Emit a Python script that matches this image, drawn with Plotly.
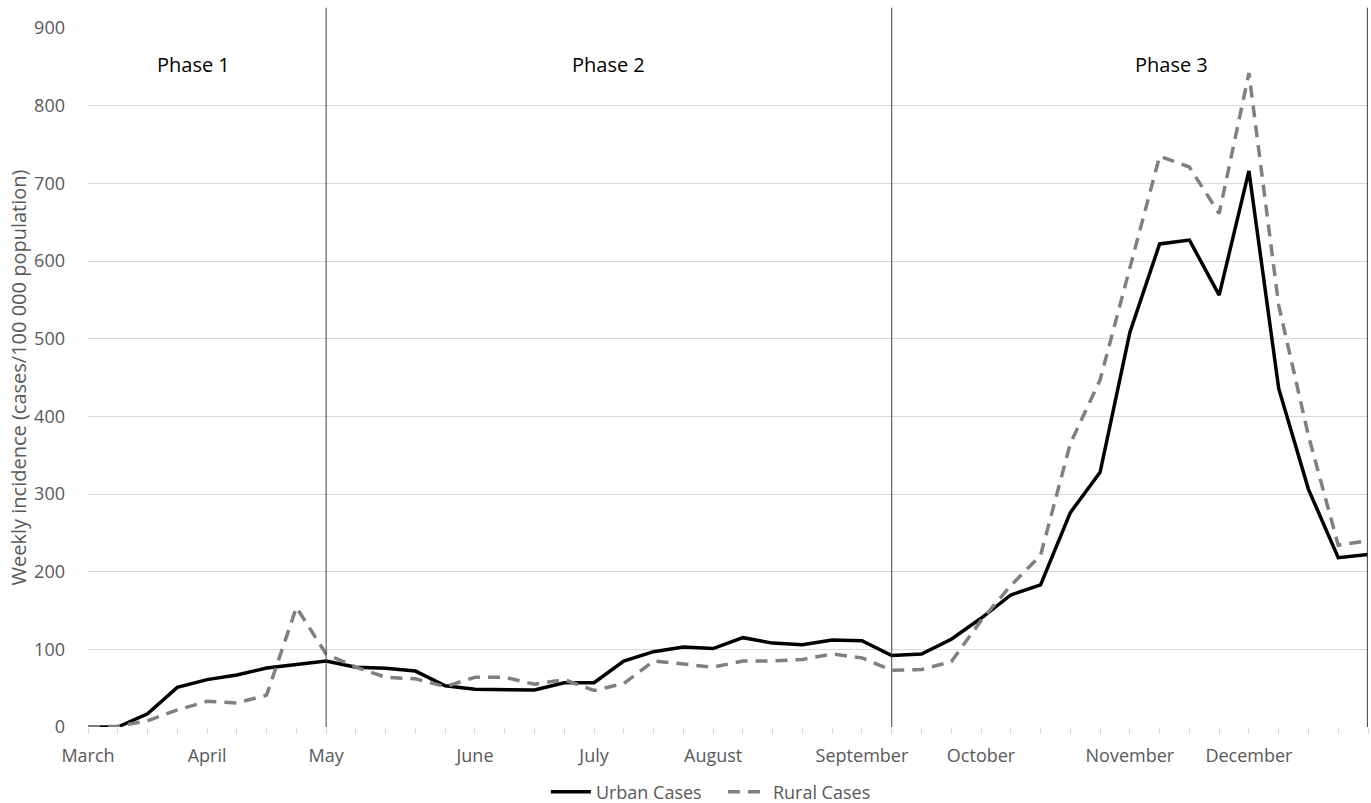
import plotly.graph_objects as go

weeks = list(range(44))
month_labels = {0: "March", 4: "April", 8: "May", 13: "June", 17: "July", 21: "August",
                26: "September", 30: "October", 35: "November", 39: "December"}
tick_text = [month_labels.get(i, "") for i in weeks]

urban = [0, 0, 17, 51, 61, 67, 76, 80, 85, 77, 75.5, 72, 53, 48.5, 48.5, 47.6, 57, 57, 85, 97,
         103, 101, 115, 108, 106, 112, 111, 92, 94, 113, 140, 170, 183, 276, 328, 508, 622, 627,
         556, 716, 436, 306, 218, 222]
rural = [0, 1, 8, 22, 33, 31, 41, 154, 94, 77, 64, 62, 52, 64, 64, 55, 61, 47, 56, 85,
         81, 77, 85, 85, 87, 94, 89, 73, 74, 84, 137, 182, 221, 365, 447, 590, 735, 721,
         661, 842, 543, 375, 234, 240]

phase_breaks = [8, 27, 42.98]
phase_names = ["Phase 1", "Phase 2", "Phase 3"]
phase_label_x = [3.53, 17.47, 36.4]
phase_label_y = 853

fig = go.Figure()
fig.add_trace(go.Scatter(x=weeks, y=urban, mode="lines", name="Urban Cases",
                         line=dict(color="#000000", width=3.5)))
fig.add_trace(go.Scatter(x=weeks, y=rural, mode="lines", name="Rural Cases",
                         line=dict(color="#808080", width=3.5, dash="12px,8px")))

for b in phase_breaks:
    fig.add_shape(type="line", xref="x", yref="paper", x0=b, x1=b, y0=0, y1=1.029,
                  line=dict(color="#404040", width=1), layer="above")

for name, px in zip(phase_names, phase_label_x):
    fig.add_annotation(x=px, y=phase_label_y, xref="x", yref="y", text=name, showarrow=False,
                       font=dict(family="Open Sans", size=20, color="#000000"))

fig.update_layout(
    width=1371, height=803,
    margin=dict(l=88, r=3, t=28, b=76, autoexpand=False),
    plot_bgcolor="white", paper_bgcolor="white",
    font=dict(family="Open Sans", color="#595959"),
    showlegend=True,
    legend=dict(orientation="h", x=0.496, xanchor="center", y=-0.093, yanchor="middle",
                font=dict(size=18, color="#595959"), itemwidth=40, tracegroupgap=0,
                entrywidth=122, entrywidthmode="pixels"),
    xaxis=dict(range=[0, 43], tickmode="array", tickvals=weeks, ticktext=tick_text,
               showgrid=False, zeroline=False, showline=False, automargin=False,
               ticks="outside", ticklen=6, tickcolor="#d9d9d9", tickwidth=1,
               tickfont=dict(size=18, color="#595959"), tickangle=0),
    yaxis=dict(range=[0, 900], dtick=100, showgrid=True, gridcolor="#d9d9d9", gridwidth=1,
               zeroline=False, showline=False, ticks="", automargin=False,
               tickfont=dict(size=18, color="#595959"),
               title=dict(text="Weekly incidence (cases/100 000 population)",
                          font=dict(size=20, color="#595959"), standoff=2)),
)
fig.update_yaxes(ticklabelstandoff=22)
fig.update_xaxes(ticklabelstandoff=6)

fig.write_html("out.html", config={"displayModeBar": False},
               post_script="document.body.style.margin='0';document.body.style.overflow='hidden';")
